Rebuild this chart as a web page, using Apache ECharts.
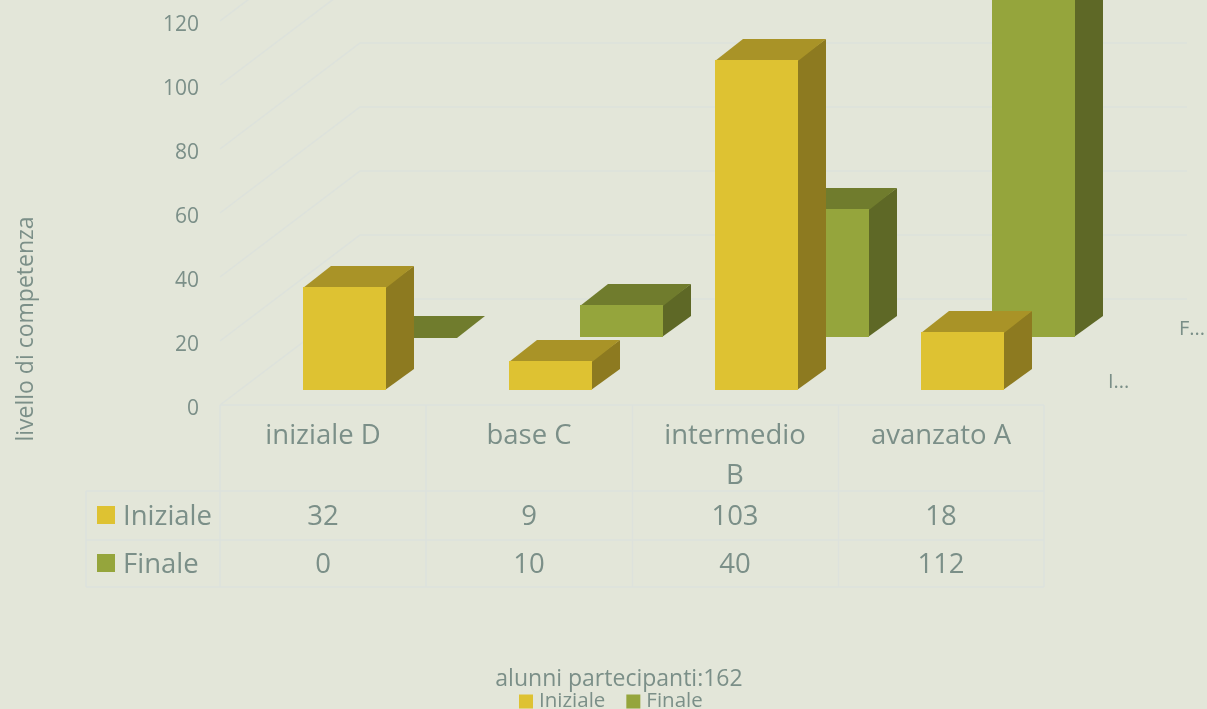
<!DOCTYPE html>
<html>
<head>
<meta charset="utf-8">
<title>livello di competenza</title>
<script src="https://cdn.jsdelivr.net/npm/echarts@6/dist/echarts.min.js"></script>
<style>
  html, body { margin: 0; padding: 0; background: #e3e6d9; overflow: hidden; }
  #chart { width: 1207px; height: 709px; }
</style>
</head>
<body>
<div id="chart"></div>
<script>
// dati
const categories = ['iniziale D', 'base C', 'intermedio\nB', 'avanzato A'];
const iniziale = [32, 9, 103, 18];
const finale = [0, 10, 40, 112];
const yTicks = [0, 20, 40, 60, 80, 100, 120];
const seriesNames = ['Iniziale', 'Finale'];
const depthLabels = ['I...', 'F...'];

const TEXT = '#7b8f88';
const LINE = '#dde2dc';
const FONT = 'Open Sans';
const GRID = { left: 220, top: 21, width: 824, height: 384 };
const BAR_W = 83;
const DEPTH_X = 28;
const DEPTH_Y = 21;

// scatola 3D: dx, dy = spostamento della fila rispetto alla colonna della tabella
const renderBox = (front, top, side, dx, dy) => (params, api) => {
  const base = api.coord([api.value(0), 0]);
  const peak = api.coord([api.value(0), api.value(1)]);
  const l = Math.round(base[0] + dx - BAR_W / 2);
  const r = l + BAR_W;
  const b = Math.round(base[1] + dy);
  const t = Math.floor(peak[1] + dy);
  return {
    type: 'group',
    children: [
      { type: 'polygon', shape: { points: [[r - 1, t], [r + DEPTH_X, t - DEPTH_Y], [r + DEPTH_X, b - DEPTH_Y], [r - 1, b]] }, style: { fill: side } },
      { type: 'polygon', shape: { points: [[l, t + 1], [l + DEPTH_X, t - DEPTH_Y], [r + DEPTH_X, t - DEPTH_Y], [r, t + 1]] }, style: { fill: top } },
      { type: 'rect', shape: { x: l, y: t, width: BAR_W, height: b - t }, style: { fill: front } }
    ]
  };
};

// griglia sulle pareti: tratto obliquo + parete di fondo
const renderWall = (params, api) => {
  const p = api.coord([0, api.value(1)]);
  const x0 = params.coordSys.x;
  return {
    type: 'polyline',
    shape: { points: [[x0, p[1]], [x0 + 140, p[1] - 106], [1187, p[1] - 106]] },
    style: { stroke: LINE, lineWidth: 1.5, fill: 'none' }
  };
};

const line = (x1, y1, x2, y2) => ({
  type: 'line',
  silent: true,
  shape: { x1, y1, x2, y2 },
  style: { stroke: LINE, lineWidth: 1.5 }
});

const label = (text, x, y, fontSize, textAlign = 'center', rotation = 0) => ({
  type: 'text',
  silent: true,
  x,
  y,
  rotation,
  style: { text, fontSize, fontFamily: FONT, fill: TEXT, textAlign, textVerticalAlign: 'middle' }
});

const COLS = [220, 426, 632.5, 838.5, 1044];
const COL_CENTERS = [323, 529, 735, 941];
const ROW_Y = [515, 563];
const colors = ['#dec232', '#95a53c'];

const graphics = [
  line(220, 405, 1044, 405),
  line(86, 491, 1044, 491),
  line(86, 540, 1044, 540),
  line(86, 587, 1044, 587),
  line(86, 491, 86, 587),
  ...COLS.map(x => line(x, 405, x, 587)),
  ...[iniziale, finale].flatMap((vals, r) => vals.map((v, i) => label(String(v), COL_CENTERS[i], ROW_Y[r] + 2, 27.5))),
  ...seriesNames.map((name, r) => label(name, 123, ROW_Y[r] + 2, 27.5, 'left')),
  ...seriesNames.map((name, r) => ({
    type: 'rect',
    silent: true,
    shape: { x: 97, y: ROW_Y[r] - 9, width: 18, height: 18 },
    style: { fill: colors[r] }
  })),
  label(depthLabels[0], 1108, 382, 20, 'left'),
  label(depthLabels[1], 1179, 329, 20, 'left'),
  label('alunni partecipanti:162', 619, 679, 23),
  label('livello di competenza', 26, 329, 23, 'center', Math.PI / 2)
];

const chart = echarts.init(document.getElementById('chart'));
chart.setOption({
  backgroundColor: '#e3e6d9',
  animation: false,
  textStyle: { fontFamily: FONT },
  grid: GRID,
  legend: {
    data: seriesNames,
    left: 519,
    top: 691,
    icon: 'rect',
    itemWidth: 14,
    itemHeight: 14,
    itemGap: 21,
    textStyle: { color: TEXT, fontSize: 20.5, fontFamily: FONT, padding: [0, 0, 0, 1] },
    padding: 0
  },
  xAxis: {
    type: 'category',
    data: categories,
    axisLine: { show: false },
    axisTick: { show: false },
    axisLabel: { interval: 0, color: TEXT, fontSize: 27.5, fontFamily: FONT, lineHeight: 40, margin: 11 }
  },
  yAxis: {
    type: 'value',
    min: 0,
    max: 120,
    interval: 20,
    axisLine: { show: false },
    axisTick: { show: false },
    splitLine: { show: false },
    axisLabel: { color: TEXT, fontSize: 21, fontFamily: FONT, margin: 21, verticalAlign: 'top', lineHeight: 8 }
  },
  series: [
    {
      type: 'custom',
      name: 'griglia',
      silent: true,
      clip: false,
      z: 1,
      renderItem: renderWall,
      encode: { x: 0, y: 1 },
      data: yTicks.map(v => [0, v])
    },
    {
      type: 'custom',
      name: seriesNames[1],
      clip: false,
      z: 2,
      itemStyle: { color: colors[1] },
      renderItem: renderBox(colors[1], '#707c2d', '#5e6826', 92.5, -68),
      encode: { x: 0, y: 1 },
      data: finale.map((v, i) => [i, v])
    },
    {
      type: 'custom',
      name: seriesNames[0],
      clip: false,
      z: 3,
      itemStyle: { color: colors[0] },
      renderItem: renderBox(colors[0], '#a99327', '#8d7a20', 21.7, -15),
      encode: { x: 0, y: 1 },
      data: iniziale.map((v, i) => [i, v])
    }
  ],
  graphic: graphics
});
</script>
</body>
</html>
